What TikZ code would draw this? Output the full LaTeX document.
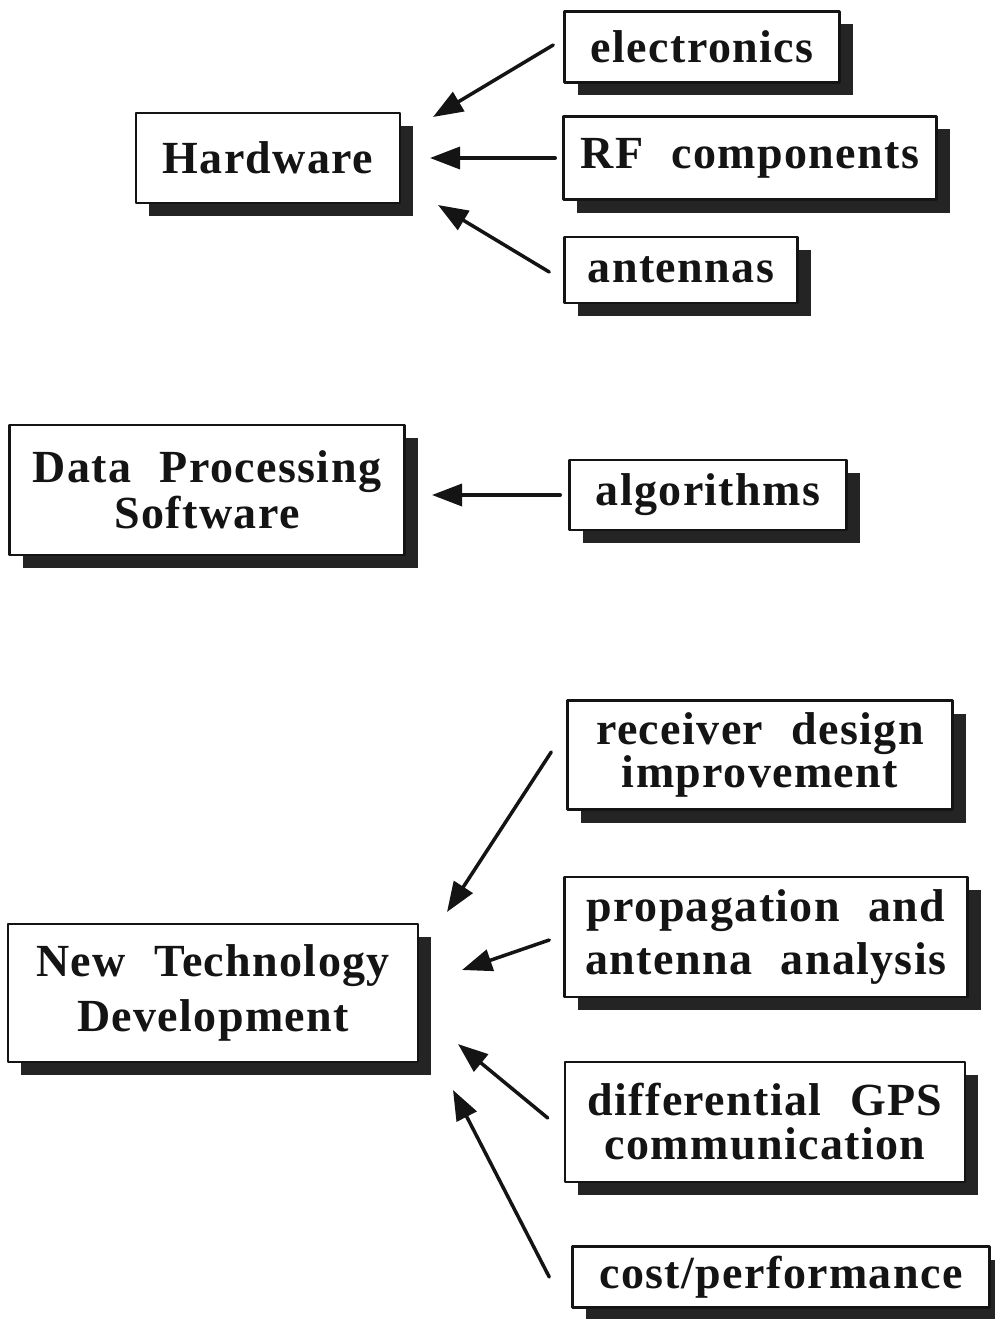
\documentclass[tikz,border=0pt]{standalone}
\usepackage{fontspec}
\setmainfont{Liberation Serif}[LetterSpace=3, WordSpace=2.2]
\usetikzlibrary{arrows.meta,shadows}
\definecolor{ChartInk}{gray}{0.08}
\definecolor{ChartShade}{gray}{0.14}
\newcommand\chartfont{\fontsize{46}{48}\selectfont\bfseries}
\tikzset{
    chart/diagram/.style={
        x=1pt, y=-1pt,
        line cap=round,
        line join=round
    },
    chart/box/.style={
        draw=ChartInk, line width=2.5pt, fill=white, text=ChartInk,
        align=center, inner sep=0pt, font=\chartfont,
        drop shadow={shadow xshift=13pt, shadow yshift=-13pt,
            fill=ChartShade, opacity=1}
    },
    chart/lines/.style={font={\fontsize{46}{#1}\selectfont\bfseries}},
    chart/feed/.style={
        draw=ChartInk, line width=3.5pt,
        -{Triangle[length=30pt, width=22pt]}
    }
}

\begin{document}
\begin{tikzpicture}[chart/diagram]
    \useasboundingbox[fill=white] (0,0) rectangle (994,1319);
    \node[chart/box, minimum width=264pt, minimum height=90pt] (hw) at (268,158) {Hardware};
    \node[chart/box, minimum width=275pt, minimum height=71pt] (elec) at (702,47) {electronics};
    \node[chart/box, minimum width=373pt, minimum height=83pt] (rf) at (750,158) {RF components};
    \node[chart/box, minimum width=233pt, minimum height=66pt] (ant) at (681,270) {antennas};
    \node[chart/box, chart/lines=46, minimum width=395pt, minimum height=130pt] (dps) at (207,490) {Data Processing\\Software};
    \node[chart/box, minimum width=277pt, minimum height=70pt] (alg) at (708,495) {algorithms};
    \node[chart/box, chart/lines=55, minimum width=410pt, minimum height=138pt] (ntd) at (213,993) {New Technology\\Development};
    \node[chart/box, chart/lines=41, minimum width=385pt, minimum height=109pt] (rcv) at (760,755) {receiver design\\improvement};
    \node[chart/box, chart/lines=53, minimum width=403pt, minimum height=120pt] (prop) at (766,937) {propagation and\\antenna analysis};
    \node[chart/box, chart/lines=44, minimum width=400pt, minimum height=120pt] (dgps) at (765,1122) {differential GPS\\communication};
    \node[chart/box, minimum width=417pt, minimum height=61pt] (cost) at (781,1277) {cost/performance};
    \coordinate (hw-a) at (433,117);
    \coordinate (hw-b) at (430,158);
    \coordinate (hw-c) at (438,205);
    \coordinate (dps-a) at (432,495);
    \coordinate (ntd-a) at (447,912);
    \coordinate (ntd-b) at (462,970);
    \coordinate (ntd-c) at (458,1044);
    \coordinate (ntd-d) at (453,1090);
    \draw[chart/feed] ([shift={(-10,-2)}]elec.west) -- (hw-a);
    \draw[chart/feed] ([xshift=-7pt]rf.west) -- (hw-b);
    \draw[chart/feed] ([shift={(-14,2)}]ant.west) -- (hw-c);
    \draw[chart/feed] ([xshift=-8pt]alg.west) -- (dps-a);
    \draw[chart/feed] ([shift={(-15,-3)}]rcv.west) -- (ntd-a);
    \draw[chart/feed] ([shift={(-14,3)}]prop.west) -- (ntd-b);
    \draw[chart/feed] ([shift={(-16,-4)}]dgps.west) -- (ntd-c);
    \draw[chart/feed] ([xshift=-22pt]cost.west) -- (ntd-d);
\end{tikzpicture}
\end{document}
